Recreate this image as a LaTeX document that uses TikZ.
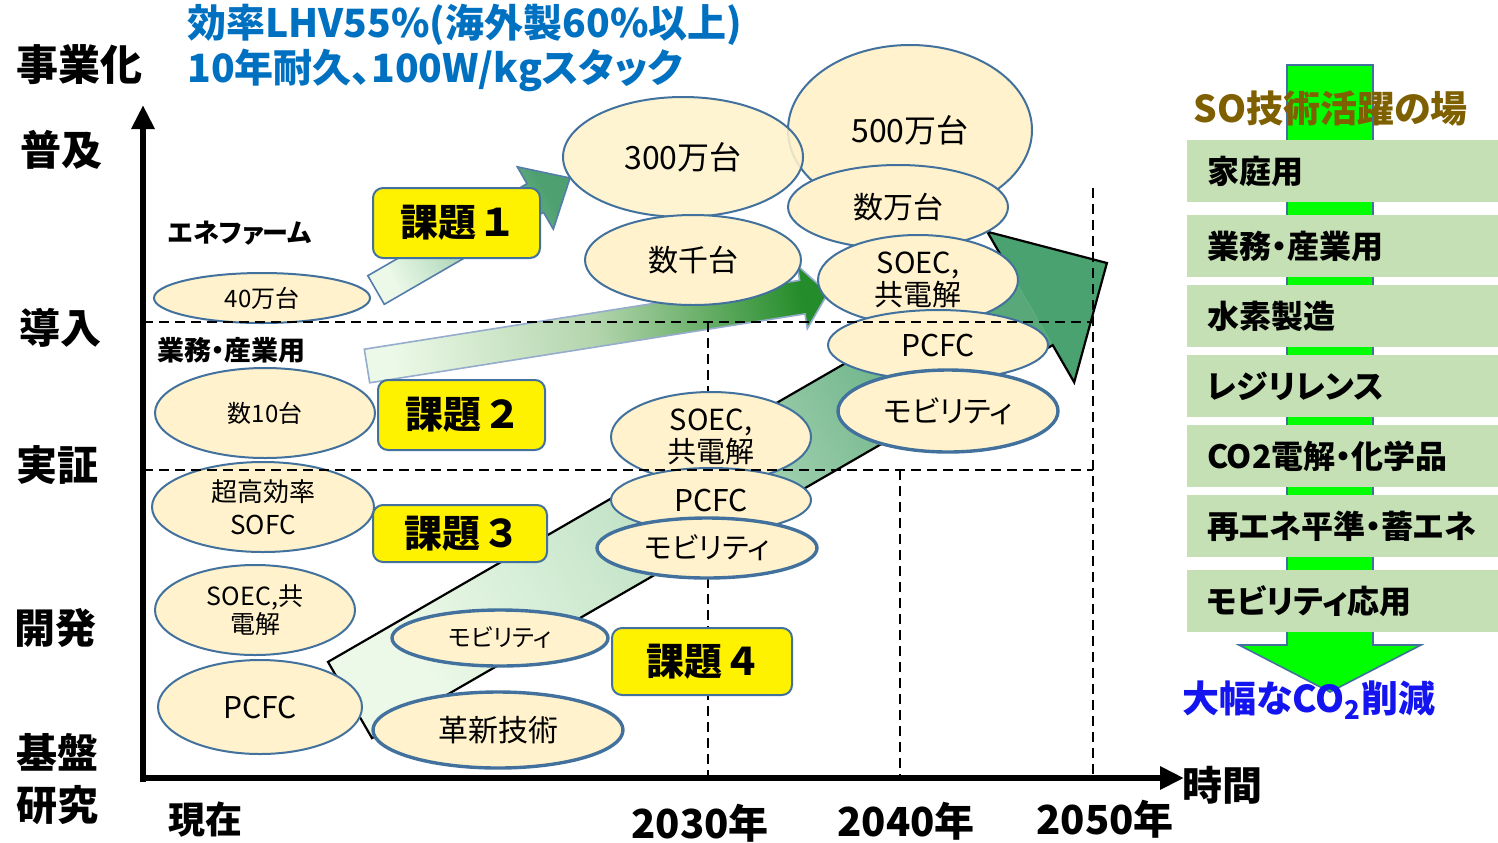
\documentclass[tikz,border=0pt]{standalone}
\usepackage{fontspec}
\setmainfont{Noto Sans CJK JP}[RawFeature=+palt]
\usetikzlibrary{shapes.geometric,arrows.meta}
\definecolor{ellfill}{RGB}{255,242,204}
\definecolor{elldraw}{RGB}{65,113,156}
\definecolor{boxgreen}{RGB}{197,224,180}
\definecolor{hdrblue}{RGB}{0,112,192}
\definecolor{titlebrown}{RGB}{127,96,0}
\definecolor{brightgreen}{RGB}{0,255,0}
\definecolor{cutblue}{RGB}{20,20,240}
\definecolor{palegreen}{RGB}{236,249,232}
\definecolor{aonehead}{RGB}{78,160,112}
\definecolor{atwomid}{RGB}{178,212,172}
\definecolor{atwohead}{RGB}{36,140,42}
\definecolor{athreemid}{RGB}{185,222,192}
\definecolor{athreetop}{RGB}{88,168,122}
\definecolor{athreehead}{RGB}{74,162,112}
\definecolor{aoneline}{RGB}{85,125,170}
\definecolor{atwoline}{RGB}{150,172,205}
\tikzset{
  ell/.style={ellipse, draw=elldraw, line width=1pt, fill=ellfill, inner sep=0pt, align=center, text=black},
  ellthick/.style={ell, line width=1.7pt},
  kadai/.style={rectangle, draw=elldraw, line width=1pt, fill=yellow, rounded corners=5pt, inner sep=0pt, font=\bfseries\fontsize{19}{22}\selectfont},
  rbox/.style={rectangle, fill=boxgreen, minimum height=31pt, text width=135.5pt, inner xsep=10pt, inner ysep=0pt, align=left, font=\bfseries\fontsize{16}{19}\selectfont},
  axislbl/.style={font=\bfseries\fontsize{20.5}{24}\selectfont, inner sep=0pt},
  yearlbl/.style={font=\bfseries\fontsize{20}{24}\selectfont, inner sep=0pt},
  dline/.style={dash pattern=on 5pt off 3pt, line width=1.2pt},
  axisline/.style={line width=3pt, -{Triangle[length=12pt,width=11pt]}},
  hdr/.style={anchor=west, inner sep=0pt, text=hdrblue, font=\bfseries\fontsize{19.5}{24}\selectfont},
  sublbl/.style={anchor=west, inner sep=0pt, font=\bfseries\fontsize{13}{16}\selectfont},
}
\begin{document}
\begin{tikzpicture}[x=0.5pt, y=-0.5pt]
\useasboundingbox (0,0) rectangle (1498,842);

% ---- right panel green arrow
\draw[draw=elldraw, line width=0.8pt, fill=brightgreen]
  (1287,65) -- (1373,65) -- (1373,645) -- (1421,645) -- (1330,692) -- (1239,645) -- (1287,645) -- cycle;

% ---- block arrow 1
\shadedraw[draw=aoneline, line width=0.8pt, bottom color=palegreen, top color=aonehead, shading angle=-60]
  (367.8,275.7) -- (527.0,183.7) -- (517.3,166.8) -- (570,178) -- (553.3,229.2) -- (543.5,212.3) -- (384.3,304.3) -- cycle;

% ---- block arrow 2
\shadedraw[draw=atwoline, line width=0.8pt, bottom color=palegreen, top color=atwohead, middle color=atwomid, shading angle=-81]
  (364.3,349.2) -- (799.6,280.3) -- (797.3,265.5) -- (828,293) -- (807.3,328.7) -- (805.0,313.9) -- (369.7,382.8) -- cycle;

% ---- block arrow 3
\shade[bottom color=palegreen, top color=athreetop, middle color=athreemid, shading angle=-60]
  (328,661.9) -- (1008.7,268.9) -- (1052.7,345.1) -- (372,738.1) -- cycle;
\fill[athreehead] (987.2,231.7) -- (1106.9,263) -- (1074.2,382.3) -- cycle;
\draw[black, line width=1.1pt, line join=miter]
  (328,661.9) -- (1008.7,268.9) -- (987.2,231.7) -- (1106.9,263) -- (1074.2,382.3) -- (1052.7,345.1) -- (372,738.1) -- cycle;

% ---- vertical dashed lines
\coordinate (v30t) at (708,322);  \coordinate (v30b) at (708,778);
\coordinate (v40t) at (900,470);  \coordinate (v40b) at (900,778);
\coordinate (v50t) at (1093,188); \coordinate (v50b) at (1093,778);
\draw[dline] (v30t) -- (v30b);
\draw[dline] (v40t) -- (v40b);
\draw[dline] (v50t) -- (v50b);

% ---- ellipses (upper right cluster)
\node[ell, minimum width=122pt, minimum height=85pt, font=\fontsize{16}{19}\selectfont] (e500) at (910,130) {500万台};
\node[ell, fill opacity=0.88, text opacity=1, minimum width=120pt, minimum height=60pt, font=\fontsize{16}{19}\selectfont] (e300) at (683,157) {300万台};
\node[ell, minimum width=108pt, minimum height=45pt, font=\fontsize{15}{18}\selectfont] (esen) at (693,260) {数千台};
\node[ell, minimum width=110pt, minimum height=42pt, font=\fontsize{15}{18}\selectfont] (eman) at (898,207) {数万台};
\node[ell, minimum width=100pt, minimum height=45pt, font=\fontsize{14.5}{16}\selectfont] (esoecR) at (918,280) {SOEC,\\共電解};
\node[ell, minimum width=110pt, minimum height=35pt, font=\fontsize{15}{18}\selectfont] (epcfcR) at (938,345) {PCFC};
\node[ellthick, minimum width=110pt, minimum height=41pt, font=\fontsize{15}{18}\selectfont] (emobR) at (948,411) {モビリティ};
% middle cluster
\node[ell, minimum width=100pt, minimum height=45pt, font=\fontsize{14.5}{16}\selectfont] (esoecM) at (711,437) {SOEC,\\共電解};
\node[ell, minimum width=100pt, minimum height=32pt, font=\fontsize{15}{18}\selectfont] (epcfcM) at (711,500) {PCFC};
\node[ellthick, minimum width=110pt, minimum height=30pt, font=\fontsize{14.5}{18}\selectfont] (emobM) at (707,548) {モビリティ};
% left column
\node[ell, minimum width=108pt, minimum height=25pt, font=\fontsize{12}{14}\selectfont] (e40) at (262,298) {40万台};
\node[ell, minimum width=110pt, minimum height=45pt, font=\fontsize{12}{14}\selectfont] (e10) at (265,413) {数10台};
\node[ell, minimum width=111pt, minimum height=45pt, font=\fontsize{13}{16.5}\selectfont] (esofc) at (263,507) {超高効率\\SOFC};
\node[ell, minimum width=100pt, minimum height=45pt, font=\fontsize{12.5}{14}\selectfont] (esoecL) at (255,610) {SOEC,共\\電解};
\node[ell, minimum width=102pt, minimum height=47pt, font=\fontsize{15}{18}\selectfont] (epcfcL) at (260,707) {PCFC};
\node[ellthick, minimum width=108pt, minimum height=28pt, font=\fontsize{12}{14}\selectfont] (emobS) at (500,638) {モビリティ};
\node[ellthick, minimum width=125pt, minimum height=38pt, font=\fontsize{15}{18}\selectfont] (einov) at (498,730) {革新技術};

% ---- kadai boxes
\node[kadai, minimum width=83.5pt, minimum height=35pt] (k1) at (456.5,223) {課題\,１};
\node[kadai, minimum width=83.5pt, minimum height=35pt] (k2) at (461.5,415) {課題\,２};
\node[kadai, minimum width=87pt, minimum height=28.5pt] (k3) at (460,533.5) {課題\,３};
\node[kadai, minimum width=90pt, minimum height=33.5pt] (k4) at (702,661.5) {課題\,４};

% ---- horizontal dashed lines
\coordinate (h1l) at (143,322); \coordinate (h1r) at (1093,322);
\coordinate (h2l) at (143,470); \coordinate (h2r) at (1093,470);
\draw[dline] (h1l) -- (h1r);
\draw[dline] (h2l) -- (h2r);

% ---- axes
\coordinate (orig) at (143,782);
\coordinate (ytop) at (143,105);
\coordinate (xorig) at (140,778);
\coordinate (xend) at (1184,778);
\draw[axisline] (orig) -- (ytop);
\draw[axisline] (xorig) -- (xend);

% ---- left axis labels
\node[axislbl, font=\bfseries\fontsize{21}{24}\selectfont] (l0) at (80,65) {事業化};
\node[axislbl] (l1) at (61,150) {普及};
\node[axislbl] (l2) at (60,328) {導入};
\node[axislbl] (l3) at (58,465) {実証};
\node[axislbl] (l4) at (55,628) {開発};
\node[axislbl] (l5) at (58,752) {基盤};
\node[axislbl] (l6) at (58,805) {研究};

% ---- header
\node[hdr] (hd1) at (187,25) {効率LHV55\%(海外製60\%以上)};
\node[hdr] (hd2) at (187,70) {10年耐久、100W/kgスタック};

% ---- sub labels
\node[sublbl] (enef) at (168,233) {エネファーム};
\node[sublbl, font=\bfseries\fontsize{13.5}{16}\selectfont] (gyomu) at (157,350) {業務・産業用};

% ---- bottom labels
\node[axislbl, font=\bfseries\fontsize{18.5}{22}\selectfont] (now) at (205,820) {現在};
\node[yearlbl] (y30) at (700,823) {2030年};
\node[yearlbl] (y40) at (906,821) {2040年};
\node[yearlbl] (y50) at (1105,819) {2050年};
\node[yearlbl] (jikan) at (1222,785) {時間};

% ---- right panel
\node[anchor=west, inner sep=0pt, text=titlebrown, font=\bfseries\fontsize{18.5}{22}\selectfont] (sotitle) at (1193,108) {SO技術活躍の場};
\node[rbox] (r1) at (1342.5,171) {家庭用};
\node[rbox] (r2) at (1342.5,246) {業務・産業用};
\node[rbox] (r3) at (1342.5,316) {水素製造};
\node[rbox] (r4) at (1342.5,386) {レジリレンス};
\node[rbox] (r5) at (1342.5,456) {CO2電解・化学品};
\node[rbox] (r6) at (1342.5,526) {再エネ平準・蓄エネ};
\node[rbox] (r7) at (1342.5,601) {モビリティ応用};
\node[anchor=west, inner sep=0pt, text=cutblue, font=\bfseries\fontsize{18.5}{22}\selectfont] (cut) at (1182,700) {大幅なCO\textsubscript{2}削減};
\end{tikzpicture}
\end{document}
